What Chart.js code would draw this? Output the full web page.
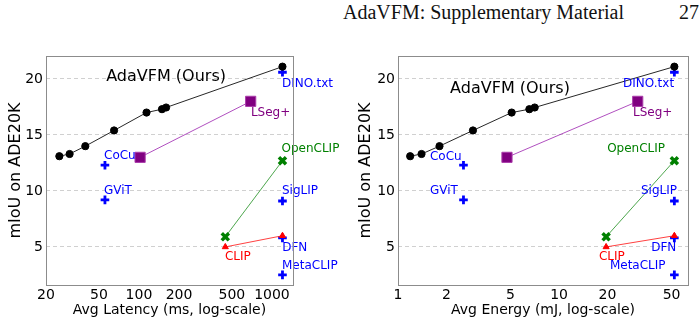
<!DOCTYPE html>
<html>
<head>
<meta charset="utf-8">
<script src="https://cdn.jsdelivr.net/npm/chart.js@4.4.1/dist/chart.umd.min.js"></script>
<style>
  body { margin: 0; background: #fff; }
  #page { position: relative; width: 700px; height: 324px; overflow: hidden; }
  canvas { position: absolute; top: 0; }
  .head { position: absolute; top: 1px; font-family: "Liberation Serif", "DejaVu Serif", serif; font-size: 20px; color: #111; white-space: nowrap; }
</style>
</head>
<body>
<div id="page">
  <div class="head" id="htitle" style="left:343px">AdaVFM: Supplementary Material</div>
  <div class="head" id="hpage" style="left:679px">27</div>
  <canvas id="latChart" width="350" height="324" style="left:0"></canvas>
  <canvas id="engChart" width="350" height="324" style="left:350px"></canvas>
</div>
<script>
// ---- data ----
const miouAda = [13.1, 13.3, 14.0, 15.4, 17.0, 17.3, 17.45, 21.1];
const latencyAda = [25.2, 30.1, 39.5, 65, 114, 149, 160, 1200];
const energyAda = [1.19, 1.40, 1.81, 2.92, 5.08, 6.54, 7.06, 52];

const lsegMiou = [13.0, 18.0];
const lsegLatency = [102, 692];
const lsegEnergy = [4.75, 30.8];

const openclipMiou = [5.9, 12.7];
const openclipLatency = [446, 1200];
const openclipEnergy = [19.6, 52];

const clipMiou = [5.0, 6.0];
const clipLatency = [446, 1200];
const clipEnergy = [19.6, 52];

const baseNames = ['DINO.txt', 'CoCu', 'GViT', 'SigLIP', 'DFN', 'MetaCLIP'];
const baseMiou = [20.6, 12.3, 9.2, 9.1, 5.8, 2.5];
const baseLatency = [1200, 55.5, 55.5, 1200, 1200, 1200];
const baseEnergy = [52, 2.55, 2.55, 52, 52, 52];

const yTicks = [5, 10, 15, 20];
const latTicks = [20, 50, 100, 200, 500, 1000];
const engTicks = [1, 2, 5, 10, 20, 50];

// text labels in data coords: [text, x, y]
const latLabels = [
  ['AdaVFM (Ours)', 160, 20.2],
  ['DINO.txt', 1190, 19.6],
  ['LSeg+', 695, 17.0],
  ['OpenCLIP', 1180, 13.75],
  ['CoCu', 54.6, 13.1],
  ['GViT', 54.6, 10.0],
  ['SigLIP', 1190, 10.0],
  ['DFN', 1195, 4.9],
  ['CLIP', 443, 4.1],
  ['MetaCLIP', 1190, 3.3]
];
const engLabels = [
  ['AdaVFM (Ours)', 4.96, 19.1],
  ['DINO.txt', 51.8, 19.6],
  ['LSeg+', 28.8, 17.0],
  ['OpenCLIP', 19.9, 13.75],
  ['CoCu', 1.58, 13.05],
  ['GViT', 1.58, 10.0],
  ['SigLIP', 54, 10.0],
  ['DFN', 53.5, 4.95],
  ['CLIP', 17.7, 4.1],
  ['MetaCLIP', 20.7, 3.3]
];

// ---- styles ----
const BLUE = '#0000ff', PURPLE = '#800080', GREEN = '#008000', RED = '#ff0000';
const labelStyle = {
  'AdaVFM (Ours)': { color: '#000', size: 16, align: 'center' },
  'DINO.txt': { color: BLUE }, 'CoCu': { color: BLUE }, 'GViT': { color: BLUE },
  'SigLIP': { color: BLUE }, 'DFN': { color: BLUE }, 'MetaCLIP': { color: BLUE },
  'LSeg+': { color: PURPLE }, 'OpenCLIP': { color: GREEN }, 'CLIP': { color: RED }
};
const rightAligned = ['DINO.txt', 'SigLIP', 'DFN'];

function pts(xs, ys) {
  return xs.map((x, i) => ({ x: x, y: ys[i] }));
}

const textPlugin = {
  id: 'textLabels',
  afterDatasetsDraw(chart, args, opts) {
    const ctx = chart.ctx;
    const xs = chart.scales.x, ys = chart.scales.y;
    ctx.save();
    for (const [t, x, y] of opts.labels) {
      const st = labelStyle[t];
      ctx.font = (st.size || 12) + 'px "DejaVu Sans"';
      ctx.fillStyle = st.color;
      ctx.textBaseline = 'middle';
      ctx.textAlign = st.align || (opts.rightSide && rightAligned.includes(t) ? 'right' : 'left');
      ctx.fillText(t, xs.getPixelForValue(x), ys.getPixelForValue(y));
    }
    ctx.restore();
  }
};

const framePlugin = {
  id: 'frame',
  afterDraw(chart) {
    const a = chart.chartArea, ctx = chart.ctx;
    ctx.save();
    ctx.strokeStyle = '#8c8c8c';
    ctx.lineWidth = 1;
    ctx.strokeRect(Math.round(a.left) + 0.5, Math.round(a.top) + 0.5,
      Math.round(a.right - a.left), Math.round(a.bottom - a.top));
    ctx.restore();
  }
};

function makeChart(canvasId, xAda, xLseg, xOpen, xClip, xBase, xTicks, xMin, xMax, xTitle, yWidth, padRight, labels, rightSide) {
  const datasets = [
    {
      type: 'line', data: pts(xAda, miouAda),
      borderColor: 'rgba(0,0,0,0.85)', borderWidth: 1,
      pointStyle: 'circle', pointRadius: 3.6, pointBackgroundColor: '#000', pointBorderColor: '#000'
    },
    {
      type: 'line', data: pts(xClip, clipMiou),
      borderColor: 'rgba(255,0,0,0.75)', borderWidth: 1,
      pointStyle: 'triangle', pointRadius: 3.5, pointBackgroundColor: RED, pointBorderColor: RED, pointBorderWidth: 1
    },
    {
      type: 'line', data: pts(xOpen, openclipMiou),
      borderColor: 'rgba(0,128,0,0.7)', borderWidth: 1,
      pointStyle: 'crossRot', pointRadius: 5, pointBorderColor: GREEN, pointBorderWidth: 3.5
    },
    {
      type: 'line', data: pts(xLseg, lsegMiou),
      borderColor: 'rgba(150,20,170,0.75)', borderWidth: 1,
      pointStyle: 'rect', pointRadius: 7.2, pointBackgroundColor: PURPLE, pointBorderColor: 'rgba(170,60,170,1)', pointBorderWidth: 1
    },
    {
      type: 'scatter', data: pts(xBase, baseMiou), showLine: false,
      pointStyle: 'cross', pointRadius: 4.3, pointBorderColor: BLUE, pointBorderWidth: 2.8
    }
  ];
  return new Chart(document.getElementById(canvasId), {
    data: { datasets: datasets },
    options: {
      responsive: false,
      animation: false,
      devicePixelRatio: 1,
      layout: { padding: { left: 0, top: 56, right: padRight, bottom: 0 } },
      plugins: {
        legend: { display: false },
        tooltip: { enabled: false },
        textLabels: { labels: labels, rightSide: rightSide }
      },
      scales: {
        x: {
          type: 'logarithmic', min: xMin, max: xMax,
          afterBuildTicks: s => { s.ticks = xTicks.map(v => ({ value: v })); },
          afterFit: s => { s.height = 39; },
          grid: { display: false, drawTicks: false },
          border: { display: false },
          ticks: {
            autoSkip: false, maxRotation: 0, padding: 2, color: '#000',
            font: { family: 'DejaVu Sans', size: 14 },
            callback: v => String(v)
          },
          title: {
            display: true, text: xTitle, color: '#000',
            font: { family: 'DejaVu Sans', size: 14 },
            padding: { top: 0, bottom: 5 }
          }
        },
        y: {
          type: 'linear', min: 1.6, max: 22.05,
          afterBuildTicks: s => { s.ticks = yTicks.map(v => ({ value: v })); },
          afterFit: s => { s.width = yWidth; },
          grid: { color: '#d0d0d0', lineWidth: 1, drawTicks: false },
          border: { display: false, dash: [4, 3] },
          ticks: {
            padding: 3, color: '#000',
            font: { family: 'DejaVu Sans', size: 14 }
          },
          title: {
            display: true, text: 'mIoU on ADE20K', color: '#000',
            font: { family: 'DejaVu Sans', size: 16 },
            padding: { top: 6, bottom: 0 }
          }
        }
      }
    },
    plugins: [textPlugin, framePlugin]
  });
}

makeChart('latChart', latencyAda, lsegLatency, openclipLatency, clipLatency, baseLatency,
  latTicks, 20, 1440, 'Avg Latency (ms, log-scale)', 46, 57, latLabels, false);
makeChart('engChart', energyAda, lsegEnergy, openclipEnergy, clipEnergy, baseEnergy,
  engTicks, 1, 63.2, 'Avg Energy (mJ, log-scale)', 48, 12, engLabels, true);
</script>
</body>
</html>
